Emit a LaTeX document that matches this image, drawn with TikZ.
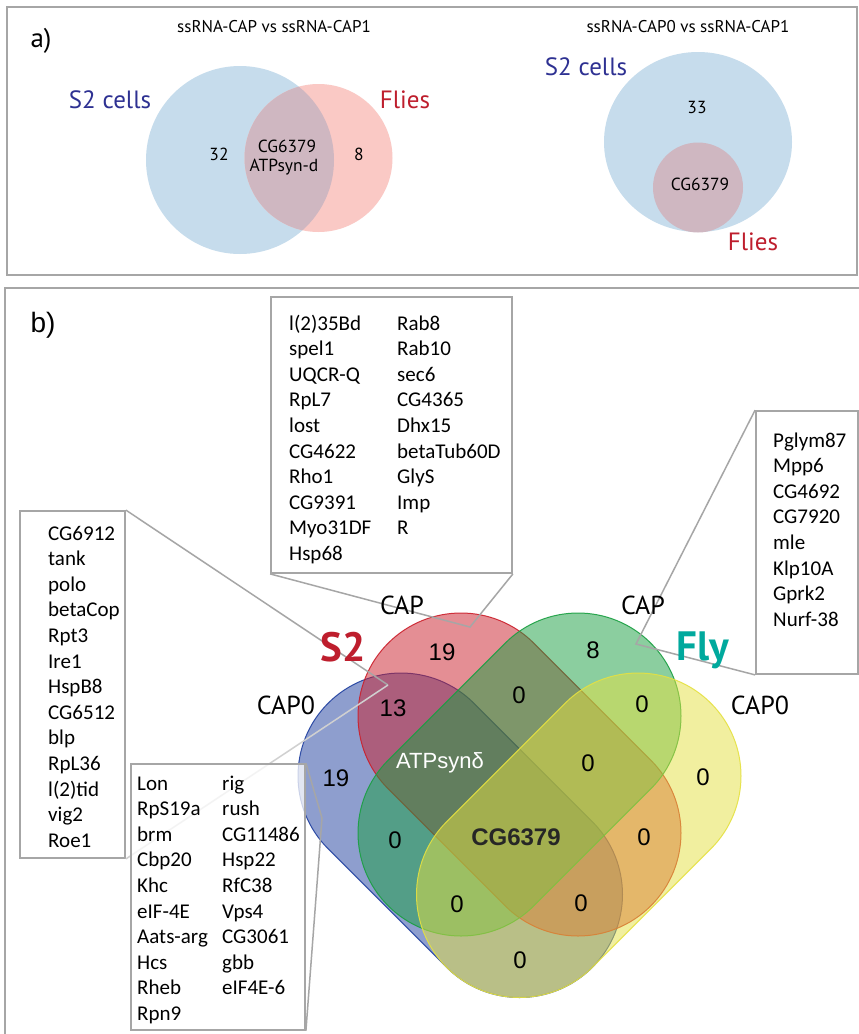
\documentclass[tikz,border=0pt]{standalone}
\usepackage{fontspec}
\setmainfont{Liberation Sans}
\newfontfamily\myr{PT Sans}
\newfontfamily\calfont{Carlito}
\usetikzlibrary{calc}
\definecolor{framegray}{HTML}{A6A6A6}
\definecolor{lightline}{HTML}{D0D0D0}
\definecolor{vblue}{RGB}{31,63,159}
\definecolor{vred}{RGB}{203,31,43}
\definecolor{vgreen}{RGB}{25,159,65}
\definecolor{vyellow}{RGB}{229,225,65}
\definecolor{lblue}{HTML}{C6DCEC}
\definecolor{lred}{HTML}{FAC9C5}
\definecolor{lover}{HTML}{CFB7C1}
\definecolor{sblue}{HTML}{2E3192}
\definecolor{sred}{HTML}{BE1E2D}
\definecolor{flyteal}{HTML}{00A99D}
\tikzset{
  panelframe/.style={draw=framegray, line width=2pt},
  listbox/.style={draw=framegray, line width=1.8pt, fill=white, inner sep=0pt},
  tailline/.style={draw=framegray, line width=1.5pt},
  listtxt/.style={font=\calfont\fontsize{21}{25}\selectfont, inner sep=0pt, anchor=base west},
  vnum/.style={font=\fontsize{24}{28}\selectfont, inner sep=0pt},
  caplbl/.style={font=\myr\fontsize{26}{30}\selectfont, inner sep=0pt},
  biglbl/.style={font=\myr\bfseries\fontsize{41}{45}\selectfont, inner sep=0pt},
  atxt/.style={font=\myr\fontsize{17.5}{20}\selectfont, inner sep=0pt},
  ttxt/.style={font=\myr\fontsize{17}{20}\selectfont, inner sep=0pt},
  setlbl/.style={font=\myr\fontsize{25}{29}\selectfont, inner sep=0pt},
  capsule/.style={fill=#1, fill opacity=0.5, draw=#1, draw opacity=0.9, line width=1pt},
}
\begin{document}
\begin{tikzpicture}[x=1pt,y=-1pt]
\useasboundingbox (0,0) rectangle (859,1034);
\clip (0,0) rectangle (859,1034);
\fill[white] (0,0) rectangle (859,1034);

% ---------------- panel a ----------------
\draw[panelframe] (7,7) rectangle (857,275);
\node[font=\myr\fontsize{27}{30}\selectfont, inner sep=0pt] (alabel) at (41,41) {a)};
\node[ttxt] (titleA) at (274,27) {ssRNA-CAP vs ssRNA-CAP1};
\node[ttxt] (titleB) at (688,27) {ssRNA-CAP0 vs ssRNA-CAP1};

% left Venn
\fill[lblue] (240,160) circle (94);
\fill[lred] (318.5,158) circle (74);
\begin{scope}
  \clip (240,160) circle (94);
  \fill[lover] (318.5,158) circle (74);
\end{scope}
\node[setlbl, text=sblue] (s2a) at (110,100) {S2 cells};
\node[setlbl, text=sred] (fliesa) at (405,100) {Flies};
\node[atxt] (n32) at (219,154) {32};
\node[atxt] (n8) at (359,154) {8};
\node[atxt] (cgA) at (287,146) {CG6379};
\node[atxt] (atpA) at (284,167) {ATPsyn-d};

% right Venn
\fill[lblue] (698,142) ellipse [x radius=94, y radius=90];
\fill[lover] (698,187.5) circle (45);
\node[setlbl, text=sblue] (s2b) at (586,67) {S2 cells};
\node[setlbl, text=sred] (fliesb) at (753,242) {Flies};
\node[atxt] (n33) at (697,107) {33};
\node[atxt] (cgB) at (700,184) {CG6379};

% ---------------- panel b ----------------
\draw[panelframe] (5,1040) -- (5,288) -- (866,288);
\node[font=\fontsize{28}{32}\selectfont, inner sep=0pt] (blabel) at (43,325) {b)};

% four-set Venn (capsules)
\path[capsule=vblue] (401,776) ++(-45:103) -- ++(118.5,118.5)
   arc[start angle=-45, end angle=135, radius=103] -- ++(-118.5,-118.5)
   arc[start angle=135, end angle=315, radius=103] -- cycle;
\path[capsule=vred] (461,716) ++(-45:103) -- ++(117,117)
   arc[start angle=-45, end angle=135, radius=103] -- ++(-117,-117)
   arc[start angle=135, end angle=315, radius=103] -- cycle;
\path[capsule=vgreen] (578,716) ++(45:103) -- ++(-117,117)
   arc[start angle=45, end angle=225, radius=103] -- ++(117,-117)
   arc[start angle=225, end angle=405, radius=103] -- cycle;
\path[capsule=vyellow] (638,776) ++(45:103) -- ++(-118.5,118.5)
   arc[start angle=45, end angle=225, radius=103] -- ++(118.5,-118.5)
   arc[start angle=225, end angle=405, radius=103] -- cycle;

% list boxes
\coordinate (tipL) at (388,685);
\coordinate (tipT) at (470,627);
\coordinate (tipR) at (636,644);
\coordinate (tipB) at (322,818);

\node[listbox, minimum width=105pt, minimum height=347pt] (boxL) at (72.5,684.5) {};
\node[listbox, minimum width=241pt, minimum height=276pt] (boxT) at (391.5,435) {};
\node[listbox, minimum width=102pt, minimum height=263pt] (boxR) at (807,542.5) {};

\draw[tailline] (boxL.north east) -- (tipL);
\draw[draw=lightline, line width=1.5pt] (boxL.south east) -- (tipL);
\draw[tailline] (boxT.south west) -- (tipT) -- (boxT.south east);
\draw[tailline] (boxR.north west) -- (tipR) -- (boxR.south west);

\node[listbox, fill opacity=0.75, minimum width=174pt, minimum height=266pt] (boxB) at (218,897) {};
\draw[tailline] (boxB.north east) -- (tipB) -- (boxB.south east);

% list texts
\foreach \t [count=\i from 0] in {l(2)35Bd,spel1,UQCR-Q,RpL7,lost,CG4622,Rho1,CG9391,Myo31DF,Hsp68}
  \node[listtxt] (ta\i) at (289,{330+25.6*\i}) {\t};
\foreach \t [count=\i from 0] in {Rab8,Rab10,sec6,CG4365,Dhx15,betaTub60D,GlyS,Imp,R}
  \node[listtxt] (tb\i) at (397,{330+25.6*\i}) {\t};
\foreach \t [count=\i from 0] in {Pglym87,Mpp6,CG4692,CG7920,mle,Klp10A,Gprk2,Nurf-38}
  \node[listtxt] (r\i) at (773,{447+25.6*\i}) {\t};
\foreach \t [count=\i from 0] in {CG6912,tank,polo,betaCop,Rpt3,Ire1,HspB8,CG6512,blp,RpL36,l(2)tid,vig2,Roe1}
  \node[listtxt] (l\i) at (48,{540+25.6*\i}) {\t};
\foreach \t [count=\i from 0] in {Lon,RpS19a,brm,Cbp20,Khc,eIF-4E,Aats-arg,Hcs,Rheb,Rpn9}
  \node[listtxt] (ba\i) at (137,{790+25.6*\i}) {\t};
\foreach \t [count=\i from 0] in {rig,rush,CG11486,Hsp22,RfC38,Vps4,CG3061,gbb,eIF4E-6}
  \node[listtxt] (bb\i) at (222,{790+25.6*\i}) {\t};

% set labels
\node[caplbl] (capL) at (402,605) {CAP};
\node[caplbl] (capR) at (643,605) {CAP};
\node[caplbl] (cap0L) at (286,705) {CAP0};
\node[caplbl] (cap0R) at (760,705) {CAP0};
\node[biglbl, text=sred] (s2lbl) at (343,647) {S2};
\node[biglbl, text=flyteal] (flylbl) at (703,650) {Fly};

% region counts
\node[vnum] (v1) at (442,652) {19};
\node[vnum] (v2) at (593,650) {8};
\node[vnum] (v3) at (393,708) {13};
\node[vnum] (v4) at (519,695) {0};
\node[vnum] (v5) at (642,704) {0};
\node[vnum] (v6) at (336,778) {19};
\node[vnum, text=white, font=\fontsize{22}{26}\selectfont] (v7) at (440,763) {ATPsynδ};
\node[vnum] (v8) at (588,763) {0};
\node[vnum] (v9) at (703,777) {0};
\node[vnum] (v10) at (395,840) {0};
\node[vnum, font=\bfseries\fontsize{24}{28}\selectfont, text=black!85] (v11) at (516,837) {CG6379};
\node[vnum] (v12) at (644,837) {0};
\node[vnum] (v13) at (457,904) {0};
\node[vnum] (v14) at (581,903) {0};
\node[vnum] (v15) at (520,960) {0};
\end{tikzpicture}
\end{document}
